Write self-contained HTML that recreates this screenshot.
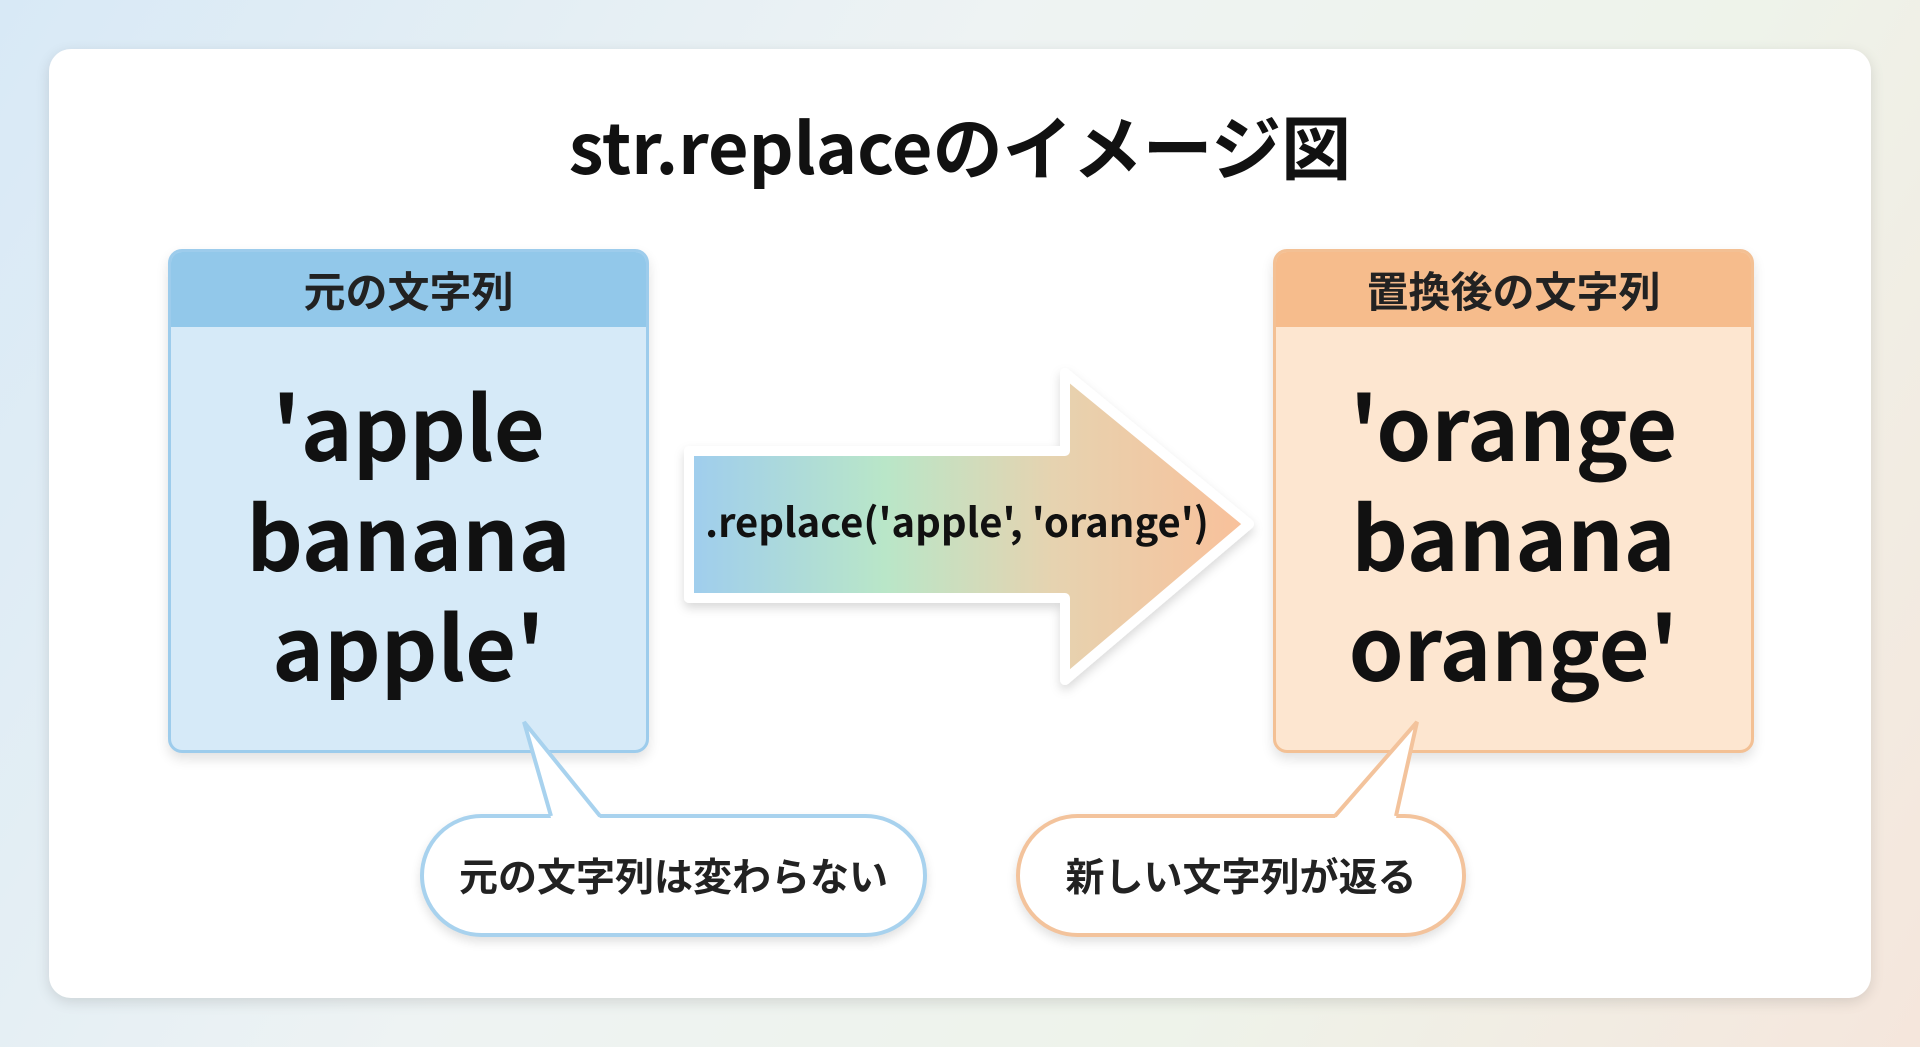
<!DOCTYPE html>
<html><head><meta charset="utf-8"><style>
*{margin:0;padding:0;box-sizing:border-box}
body{width:1920px;height:1047px;overflow:hidden;background:linear-gradient(120deg,#d8e9f6 0%,#eef3f3 40%,#eef3ea 70%,#f5e6dc 100%);font-family:"Liberation Sans","Noto Sans CJK JP",sans-serif;position:relative}
.card{position:absolute;left:49px;top:49px;width:1822px;height:949px;background:#fff;border-radius:22px;box-shadow:0 4px 14px rgba(0,0,0,.12)}
.title{position:absolute;left:0;width:1920px;top:94px;text-align:center;font-size:70px;font-weight:bold;color:#111;font-family:"Noto Sans CJK JP",sans-serif}
.box{position:absolute;top:249px;width:481px;height:504px;border-radius:14px;overflow:hidden;box-shadow:0 6px 12px rgba(0,0,0,.12)}
.box .hd{height:75px;text-align:center;font-size:42px;font-weight:bold;line-height:75px;font-family:"Noto Sans CJK JP",sans-serif;color:#222}
.box .bd{position:absolute;top:75px;left:0;right:0;bottom:0;text-align:center;font-size:88px;font-weight:bold;line-height:110px;padding-top:42px;font-family:"Noto Sans CJK JP",sans-serif;color:#111}
.l{left:168px;border:3px solid #9dccec;background:#d6eaf8}
.l .hd{background:#92c8ea}
.r{left:1273px;border:3px solid #f3c094;background:#fde6d0}
.r .hd{background:#f6bc8c}
.pill{position:absolute;top:814px;height:123px;border-radius:62px;background:#fff;text-align:center;line-height:115px;font-size:39px;font-weight:bold;font-family:"Noto Sans CJK JP",sans-serif;color:#222;box-shadow:0 5px 10px rgba(0,0,0,.12)}
</style></head><body>
<div class="card"></div>
<div class="title">str.replaceのイメージ図</div>
<div class="box l"><div class="hd">元の文字列</div><div class="bd">'apple<br>banana<br>apple'</div></div>
<div class="box r"><div class="hd">置換後の文字列</div><div class="bd">'orange<br>banana<br>orange'</div></div>
<svg width="1920" height="1047" style="position:absolute;left:0;top:0">
<defs><linearGradient id="g" x1="689" y1="0" x2="1249" y2="0" gradientUnits="userSpaceOnUse">
<stop offset="0" stop-color="#9fcdee"/><stop offset="0.35" stop-color="#b9e6c8"/><stop offset="0.65" stop-color="#e6d3b0"/><stop offset="1" stop-color="#f9c09a"/></linearGradient>
<filter id="s"><feDropShadow dx="0" dy="5" stdDeviation="5" flood-opacity="0.15"/></filter></defs>
<polygon points="689,451 1065,451 1065,373 1249,524 1065,680 1065,598 689,598" fill="url(#g)" stroke="#fff" stroke-width="10" stroke-linejoin="round" filter="url(#s)"/>
<text x="957" y="537" text-anchor="middle" font-family="Noto Sans CJK JP, sans-serif" font-size="40" fill="#111" font-weight="bold">.replace('apple', 'orange')</text>
</svg>
<div class="pill" style="left:420px;width:507px;border:4px solid #a8d2ee">元の文字列は変わらない</div>
<div class="pill" style="left:1016px;width:450px;border:4px solid #f3c39c">新しい文字列が返る</div>
<svg width="1920" height="1047" style="position:absolute;left:0;top:0">
<polygon points="524,722 551,818 600,818" fill="#fff"/>
<polyline points="551,816 524,722 600,816" fill="none" stroke="#a8d2ee" stroke-width="4"/>
<polygon points="1417,722 1335,818 1396,818" fill="#fff"/>
<polyline points="1335,816 1417,722 1396,816" fill="none" stroke="#f3c39c" stroke-width="4"/>
</svg>
</body></html>
